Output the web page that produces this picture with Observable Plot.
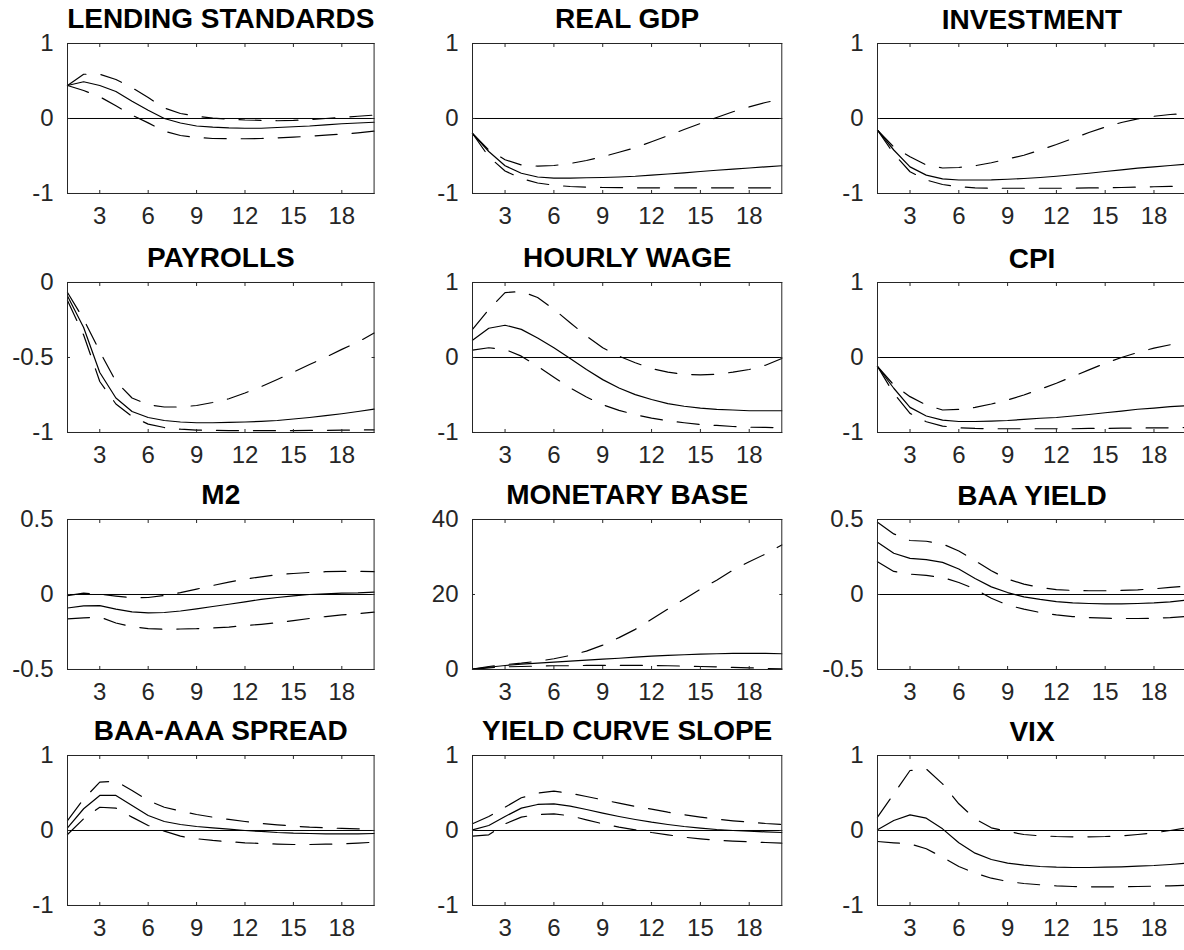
<!DOCTYPE html>
<html><head><meta charset="utf-8">
<script src="https://cdn.jsdelivr.net/npm/d3@7"></script>
<script src="https://cdn.jsdelivr.net/npm/@observablehq/plot@0.6"></script>
<style>
html,body{margin:0;padding:0;background:#fff;overflow:hidden;}
#wrap{position:relative;width:1184px;height:950px;overflow:hidden;background:#fff;}
#wrap svg{position:absolute;}
</style></head><body><div id="wrap"></div>
<script>
const horizon = d3.range(1, 21);
const xTicks = [3, 6, 9, 12, 15, 18];

const titles = ["LENDING STANDARDS", "REAL GDP", "INVESTMENT", "PAYROLLS", "HOURLY WAGE", "CPI",
  "M2", "MONETARY BASE", "BAA YIELD", "BAA-AAA SPREAD", "YIELD CURVE SLOPE", "VIX"];
const yDomains = [[-1,1],[-1,1],[-1,1],[-1,0],[-1,1],[-1,1],[-0.5,0.5],[0,40],[-0.5,0.5],[-1,1],[-1,1],[-1,1]];
const yTickSets = [[-1,0,1],[-1,0,1],[-1,0,1],[-1,-0.5,0],[-1,0,1],[-1,0,1],[-0.5,0,0.5],[0,20,40],[-0.5,0,0.5],[-1,0,1],[-1,0,1],[-1,0,1]];

const lendingMedian = [0.44,0.49,0.44,0.36,0.23,0.11,0.0,-0.06,-0.10,-0.115,-0.125,-0.13,-0.13,-0.12,-0.11,-0.10,-0.085,-0.07,-0.06,-0.05];
const lendingUpper  = [0.44,0.59,0.59,0.52,0.41,0.28,0.14,0.067,0.03,0.005,-0.01,-0.02,-0.025,-0.03,-0.025,-0.015,0.0,0.015,0.03,0.045];
const lendingLower  = [0.44,0.373,0.29,0.17,0.044,-0.058,-0.169,-0.227,-0.253,-0.267,-0.27,-0.27,-0.267,-0.258,-0.249,-0.236,-0.222,-0.209,-0.191,-0.169];

const gdpMedian = [-0.20,-0.44,-0.63,-0.73,-0.78,-0.795,-0.795,-0.79,-0.787,-0.78,-0.77,-0.755,-0.74,-0.725,-0.707,-0.69,-0.675,-0.66,-0.645,-0.63];
const gdpUpper  = [-0.20,-0.42,-0.55,-0.62,-0.635,-0.627,-0.60,-0.56,-0.51,-0.45,-0.39,-0.31,-0.23,-0.147,-0.067,0.013,0.09,0.155,0.213,0.26];
const gdpLower  = [-0.20,-0.51,-0.70,-0.80,-0.86,-0.89,-0.907,-0.915,-0.92,-0.922,-0.924,-0.925,-0.925,-0.925,-0.925,-0.925,-0.925,-0.925,-0.925,-0.925];

const invMedian = [-0.155,-0.42,-0.645,-0.755,-0.805,-0.82,-0.82,-0.818,-0.81,-0.80,-0.787,-0.77,-0.75,-0.73,-0.707,-0.685,-0.662,-0.645,-0.627,-0.61];
const invUpper  = [-0.155,-0.38,-0.51,-0.62,-0.66,-0.653,-0.63,-0.59,-0.54,-0.49,-0.42,-0.347,-0.267,-0.187,-0.115,-0.053,-0.004,0.03,0.053,0.067];
const invLower  = [-0.155,-0.47,-0.71,-0.82,-0.88,-0.91,-0.925,-0.93,-0.93,-0.93,-0.93,-0.93,-0.93,-0.925,-0.925,-0.92,-0.915,-0.91,-0.905,-0.90];

const payMedian = [-0.09,-0.30,-0.60,-0.77,-0.86,-0.90,-0.92,-0.93,-0.935,-0.935,-0.933,-0.93,-0.926,-0.92,-0.91,-0.90,-0.888,-0.875,-0.86,-0.844];
const payUpper  = [-0.067,-0.245,-0.46,-0.66,-0.77,-0.815,-0.83,-0.83,-0.82,-0.80,-0.775,-0.737,-0.694,-0.647,-0.598,-0.547,-0.498,-0.446,-0.397,-0.337];
const payLower  = [-0.12,-0.35,-0.66,-0.81,-0.893,-0.944,-0.967,-0.978,-0.984,-0.986,-0.988,-0.988,-0.988,-0.988,-0.988,-0.986,-0.986,-0.984,-0.984,-0.982];

const wageMedian = [0.23,0.39,0.43,0.375,0.26,0.13,-0.013,-0.16,-0.295,-0.406,-0.495,-0.56,-0.616,-0.65,-0.674,-0.692,-0.70,-0.71,-0.71,-0.71];
const wageUpper  = [0.375,0.64,0.866,0.88,0.80,0.643,0.464,0.286,0.13,0.018,-0.07,-0.147,-0.196,-0.223,-0.232,-0.223,-0.196,-0.16,-0.103,-0.013];
const wageLower  = [0.098,0.13,0.107,0.018,-0.116,-0.263,-0.406,-0.527,-0.63,-0.705,-0.763,-0.808,-0.844,-0.87,-0.893,-0.906,-0.92,-0.93,-0.933,-0.937];

const cpiMedian = [-0.12,-0.41,-0.665,-0.78,-0.835,-0.853,-0.853,-0.848,-0.84,-0.826,-0.81,-0.80,-0.78,-0.76,-0.737,-0.714,-0.69,-0.674,-0.656,-0.643];
const cpiUpper  = [-0.12,-0.366,-0.522,-0.634,-0.70,-0.692,-0.665,-0.62,-0.567,-0.50,-0.424,-0.344,-0.254,-0.165,-0.076,0.0,0.067,0.125,0.17,0.214];
const cpiLower  = [-0.12,-0.478,-0.745,-0.857,-0.915,-0.937,-0.946,-0.95,-0.95,-0.95,-0.95,-0.95,-0.95,-0.946,-0.946,-0.942,-0.942,-0.937,-0.937,-0.933];

const m2Median = [-0.09,-0.076,-0.074,-0.098,-0.116,-0.123,-0.12,-0.11,-0.096,-0.08,-0.065,-0.049,-0.033,-0.02,-0.009,0.0,0.004,0.009,0.011,0.016];
const m2Upper  = [-0.007,0.009,0.002,-0.011,-0.022,-0.02,-0.007,0.013,0.036,0.06,0.083,0.103,0.118,0.132,0.14,0.147,0.152,0.154,0.154,0.152];
const m2Lower  = [-0.163,-0.156,-0.15,-0.19,-0.214,-0.228,-0.232,-0.23,-0.228,-0.223,-0.217,-0.208,-0.199,-0.188,-0.174,-0.16,-0.147,-0.136,-0.127,-0.118];

const mbMedian = [0.1,0.6,1.07,1.43,1.7,1.96,2.23,2.5,2.77,3.0,3.3,3.57,3.75,3.93,4.1,4.2,4.29,4.29,4.29,4.2];
const mbUpper  = [0.1,0.8,1.3,1.7,2.2,2.86,3.75,4.9,6.5,8.5,10.7,13.4,16.1,18.75,21.4,23.8,26.5,28.75,30.8,33.2];
const mbLower  = [0.0,0.45,0.7,0.8,0.9,1.0,1.0,1.07,1.07,1.07,1.07,1.07,1.0,0.9,0.8,0.7,0.54,0.45,0.27,0.18];

const baaMedian = [0.348,0.275,0.241,0.232,0.214,0.17,0.107,0.051,0.013,-0.016,-0.033,-0.047,-0.056,-0.06,-0.0625,-0.0625,-0.06,-0.056,-0.049,-0.038];
const baaUpper  = [0.482,0.404,0.36,0.355,0.337,0.29,0.225,0.158,0.103,0.069,0.047,0.033,0.027,0.025,0.025,0.027,0.031,0.038,0.047,0.056];
const baaLower  = [0.219,0.154,0.136,0.127,0.114,0.08,0.036,-0.025,-0.07,-0.098,-0.12,-0.136,-0.147,-0.154,-0.158,-0.16,-0.16,-0.158,-0.154,-0.147];

const sprMedian = [0.035,0.29,0.467,0.467,0.333,0.2,0.12,0.08,0.053,0.036,0.018,0.0,-0.013,-0.027,-0.036,-0.04,-0.044,-0.044,-0.044,-0.04];
const sprUpper  = [0.133,0.42,0.644,0.658,0.533,0.4,0.31,0.258,0.213,0.178,0.147,0.12,0.093,0.076,0.058,0.044,0.036,0.027,0.022,0.018];
const sprLower  = [-0.053,0.156,0.31,0.298,0.178,0.067,-0.009,-0.076,-0.11,-0.133,-0.15,-0.164,-0.173,-0.182,-0.187,-0.187,-0.182,-0.178,-0.169,-0.156];

const slopeMedian = [0.009,0.067,0.187,0.298,0.347,0.356,0.324,0.28,0.231,0.187,0.147,0.111,0.08,0.053,0.031,0.013,0.0,-0.009,-0.018,-0.027];
const slopeUpper  = [0.089,0.187,0.311,0.436,0.498,0.524,0.498,0.453,0.409,0.364,0.32,0.284,0.244,0.209,0.178,0.151,0.129,0.111,0.093,0.08];
const slopeLower  = [-0.076,-0.058,0.089,0.178,0.213,0.222,0.196,0.142,0.089,0.044,0.009,-0.027,-0.058,-0.089,-0.111,-0.129,-0.142,-0.151,-0.16,-0.169];

const vixMedian = [0.009,0.133,0.209,0.164,0.022,-0.164,-0.302,-0.387,-0.436,-0.462,-0.48,-0.489,-0.493,-0.493,-0.489,-0.484,-0.476,-0.467,-0.453,-0.436];
const vixUpper  = [0.178,0.489,0.8,0.82,0.622,0.356,0.156,0.036,-0.013,-0.053,-0.071,-0.08,-0.084,-0.084,-0.08,-0.071,-0.053,-0.031,0.0,0.036];
const vixLower  = [-0.147,-0.164,-0.178,-0.244,-0.356,-0.48,-0.569,-0.636,-0.68,-0.707,-0.724,-0.738,-0.747,-0.751,-0.751,-0.751,-0.747,-0.742,-0.738,-0.729];

const medians = [lendingMedian, gdpMedian, invMedian, payMedian, wageMedian, cpiMedian, m2Median, mbMedian, baaMedian, sprMedian, slopeMedian, vixMedian];
const uppers  = [lendingUpper, gdpUpper, invUpper, payUpper, wageUpper, cpiUpper, m2Upper, mbUpper, baaUpper, sprUpper, slopeUpper, vixUpper];
const lowers  = [lendingLower, gdpLower, invLower, payLower, wageLower, cpiLower, m2Lower, mbLower, baaLower, sprLower, slopeLower, vixLower];

// layout
const frameLefts = [66.7, 471.5, 876.5];
const frameWidths = [306.6, 309.3, 309];
const frameTops = [43.3, 281.7, 519, 755];
const frameHeight = 150;
const ML = 75, MT = 48, MR = 8, MB = 46;
const axisColor = "#262626";
const dash = "22,15";

const wrap = document.getElementById("wrap");
titles.forEach((title, i) => {
  const col = i % 3, row = Math.floor(i / 3);
  const fw = frameWidths[col];
  const chart = Plot.plot({
    width: ML + fw + MR,
    height: MT + frameHeight + MB,
    marginLeft: ML, marginRight: MR, marginTop: MT, marginBottom: MB,
    x: {domain: [1, 20], axis: null},
    y: {domain: yDomains[i], axis: null},
    style: {fontFamily: "'Liberation Sans', Arial, Helvetica, sans-serif", background: "transparent", overflow: "visible", color: axisColor},
    marks: [
      Plot.ruleY([0], {stroke: "black", strokeWidth: 1}),
      Plot.line(horizon, {x: horizon, y: uppers[i], stroke: "black", strokeWidth: 1.2, strokeDasharray: dash}),
      Plot.line(horizon, {x: horizon, y: lowers[i], stroke: "black", strokeWidth: 1.2, strokeDasharray: dash}),
      Plot.line(horizon, {x: horizon, y: medians[i], stroke: "black", strokeWidth: 1.2}),
      Plot.frame({stroke: axisColor, strokeWidth: 1}),
      // inward ticks
      Plot.axisX({anchor: "bottom", ticks: xTicks, tickSize: 3, dy: -3, fill: "none", label: null, stroke: axisColor}),
      Plot.axisX({anchor: "top", ticks: xTicks, tickSize: 3, dy: 3, fill: "none", label: null, stroke: axisColor}),
      Plot.axisY({anchor: "left", ticks: yTickSets[i], tickSize: 3, dx: 3, fill: "none", label: null, stroke: axisColor}),
      Plot.axisY({anchor: "right", ticks: yTickSets[i], tickSize: 3, dx: -3, fill: "none", label: null, stroke: axisColor}),
      // tick labels
      Plot.axisX({anchor: "bottom", ticks: xTicks, tickSize: 0, tickPadding: 13, label: null, fontSize: 24, fill: axisColor, tickFormat: d => String(d)}),
      Plot.axisY({anchor: "left", ticks: yTickSets[i], tickSize: 0, tickPadding: 14, label: null, fontSize: 24, fill: axisColor, tickFormat: d => String(d)}),
      // title
      Plot.text([title], {frameAnchor: "top", dy: -15, lineAnchor: "bottom", fontWeight: "bold", fontSize: 28, fill: "black", text: d => d})
    ]
  });
  chart.style.position = "absolute";
  chart.style.left = (frameLefts[col] - ML) + "px";
  chart.style.top = (frameTops[row] - MT) + "px";
  wrap.appendChild(chart);
});
</script>
</body></html>
